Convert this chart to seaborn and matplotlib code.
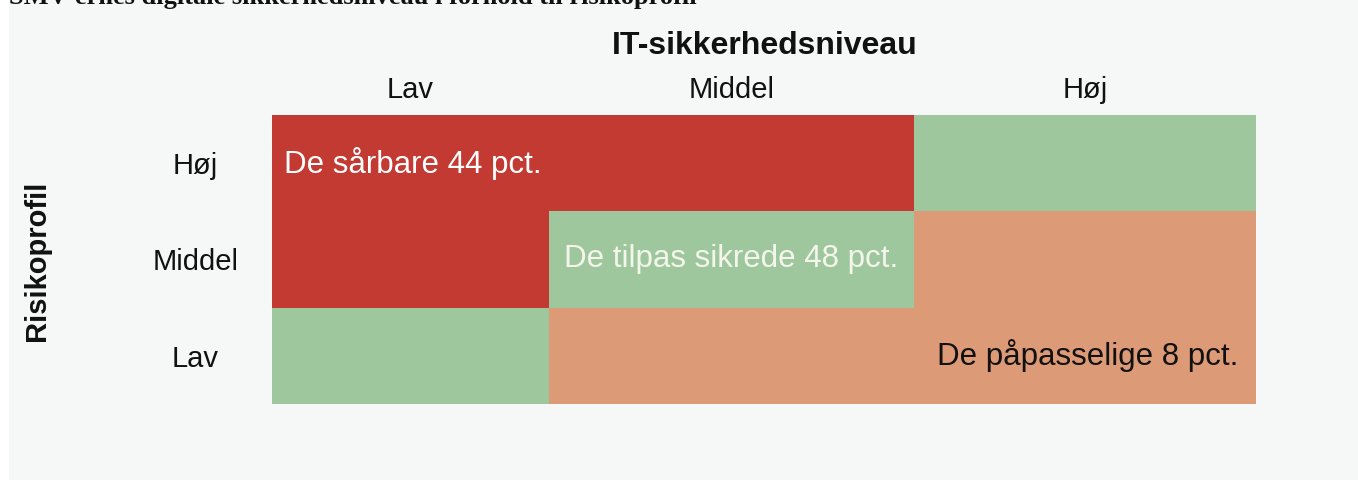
import numpy as np
import matplotlib.pyplot as plt
from matplotlib.colors import ListedColormap
from matplotlib.patches import Rectangle
import seaborn as sns

# Data
sikkerhed = ["Lav", "Middel", "Høj"]          # IT-sikkerhedsniveau (columns)
risiko = ["Lav", "Middel", "Høj"]             # Risikoprofil (rows, bottom -> top)
kolonne_bredder = [277, 365, 342]             # relative column widths
grupper = ["De sårbare", "De tilpas sikrede", "De påpasselige"]
andele = [44, 48, 8]
# 0 = sårbare, 1 = tilpas sikrede, 2 = påpasselige (rows from Lav to Høj)
celler = [[1, 2, 2],
          [0, 1, 2],
          [0, 0, 1]]
farver = ["#c23a32", "#9fc79e", "#dd9a77"]
tekstfarver = ["white", "#f4f6ec", "#111111"]

sns.set_theme(style="white")
plt.rcParams['font.family'] = ['Liberation Sans', 'DejaVu Sans']
plt.rcParams['text.color'] = '#111111'
plt.rcParams['xtick.labelcolor'] = '#111111'
plt.rcParams['ytick.labelcolor'] = '#111111'

fig = plt.figure(figsize=(13.58, 4.82), dpi=100, facecolor="white")
fig.patches.append(Rectangle((9 / 1358, 2 / 482), 1, 1, transform=fig.transFigure,
                             facecolor="#f6f8f8", edgecolor="none", zorder=-10))

ax = fig.add_axes([272 / 1358, 78 / 482, 984 / 1358, 289 / 482])
ax.set_facecolor("none")

x_kanter = np.concatenate([[0], np.cumsum(kolonne_bredder)])
y_kanter = np.arange(len(risiko) + 1)
ax.pcolormesh(x_kanter, y_kanter, np.array(celler), cmap=ListedColormap(farver),
              vmin=-0.5, vmax=2.5, shading="flat")

ax.set_xlim(0, x_kanter[-1])
ax.set_ylim(0, len(risiko))
sns.despine(ax=ax, left=True, bottom=True)

# tick labels
ax.xaxis.tick_top()
ax.set_xticks((x_kanter[:-1] + x_kanter[1:]) / 2)
ax.set_xticklabels(sikkerhed, fontsize=21)
ax.set_yticks(y_kanter[:-1] + 0.5)
ax.set_yticklabels(risiko, fontsize=21, ha="center")
ax.tick_params(axis="x", length=0, pad=8)
ax.tick_params(axis="y", length=0, pad=55)

# group labels in cells
labels = [f"{g} {a} pct." for g, a in zip(grupper, andele)]
ax.text(x_kanter[0] + 12, 2.5, labels[0], color=tekstfarver[0], fontsize=22.5,
        ha="left", va="center")
ax.text((x_kanter[1] + x_kanter[2]) / 2, 1.5, labels[1], color=tekstfarver[1],
        fontsize=22.5, ha="center", va="center")
ax.text(x_kanter[3] - 18, 0.5, labels[2], color=tekstfarver[2], fontsize=22.5,
        ha="right", va="center")

# axis titles
fig.text(765 / 1358, 1 - 46 / 482, "IT-sikkerhedsniveau", fontsize=23,
         fontweight="bold", ha="center", va="center")
fig.text(37 / 1358, 1 - 261 / 482, "Risikoprofil", fontsize=21, fontweight="bold",
         rotation=90, ha="center", va="center")

# clipped figure title at the very top
fig.text(9 / 1358, 1 - 4 / 482,
         "SMV'ernes digitale sikkerhedsniveau i forhold til risikoprofil",
         fontsize=19, fontweight="bold", family=["Liberation Serif", "DejaVu Serif"],
         ha="left", va="baseline")

fig.savefig("out.png", dpi=100, facecolor="white")
